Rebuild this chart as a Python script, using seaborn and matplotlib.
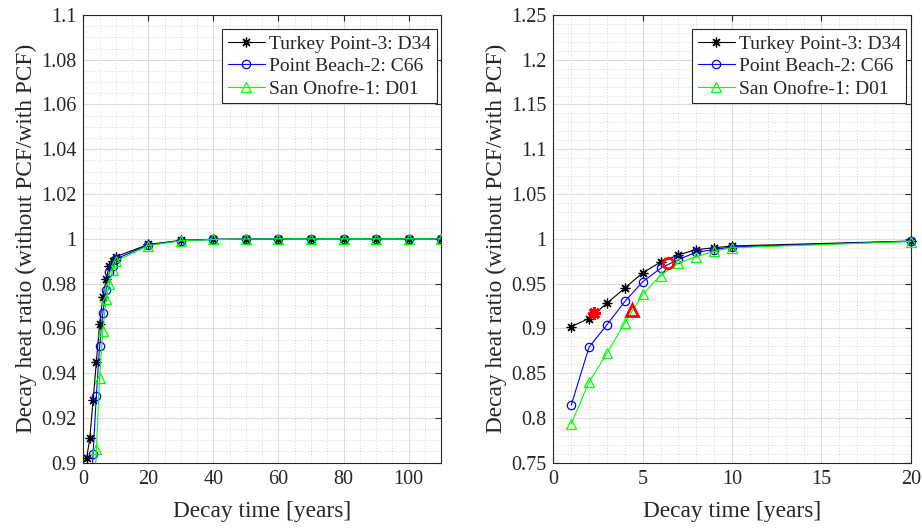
import numpy as np
import pandas as pd
import seaborn as sns
import matplotlib.pyplot as plt
from matplotlib.ticker import MultipleLocator, FuncFormatter

# Decay time in years (same sampling for all three assemblies)
decay_years = [1, 2, 3, 4, 5, 6, 7, 8, 9, 10, 20, 30, 40, 50, 60, 70, 80, 90, 100, 110]

# Decay heat ratio (without PCF / with PCF)
turkey_point = [0.902, 0.911, 0.928, 0.945, 0.962, 0.974, 0.982, 0.988, 0.990, 0.992,
                0.9975, 0.9993, 0.9998, 0.9999, 1.0, 1.0, 1.0, 1.0, 1.0, 1.0]
point_beach = [0.814, 0.879, 0.904, 0.930, 0.952, 0.967, 0.977, 0.985, 0.988, 0.991,
               0.9972, 0.9992, 0.9997, 0.9999, 1.0, 1.0, 1.0, 1.0, 1.0, 1.0]
san_onofre = [0.793, 0.840, 0.872, 0.906, 0.938, 0.959, 0.973, 0.980, 0.986, 0.990,
              0.9970, 0.9991, 0.9997, 0.9999, 1.0, 1.0, 1.0, 1.0, 1.0, 1.0]

# Highlighted (red) points on the right panel
hl_turkey = (2.3, 0.917)
hl_beach = (6.4, 0.973)
hl_onofre = (4.4, 0.921)

series = [
    ("Turkey Point-3: D34", turkey_point, "black", (8, 2, 0), 7),
    ("Point Beach-2: C66", point_beach, "blue", "o", 6),
    ("San Onofre-1: D01", san_onofre, "#00ff00", "^", 6.5),
]

sns.set_style("whitegrid")
plt.rcParams["font.family"] = ["Liberation Serif", "DejaVu Serif"]
plt.rcParams["mathtext.fontset"] = "stix"

fig = plt.figure(figsize=(9.22, 5.28), dpi=100)
ax1 = fig.add_axes([0.0904, 0.1237, 0.388, 0.848])
ax2 = fig.add_axes([0.6001, 0.1237, 0.3877, 0.848])

fmt = FuncFormatter(lambda v, p: "%g" % round(v, 4))


def draw_panel(ax, max_year, clip):
    for name, vals, color, mk, ms in series:
        df = pd.DataFrame({"year": decay_years, "ratio": vals})
        df = df[df["year"] <= max_year]
        sns.lineplot(data=df, x="year", y="ratio", ax=ax, color=color, lw=0.8,
                     marker=mk, ms=ms, mfc="none", mec=color, mew=0.9,
                     label=name, clip_on=clip, zorder=3)


def style_axes(ax, xlim, ylim, xmaj, xmin, ymaj, ymin):
    ax.set_xlim(*xlim)
    ax.set_ylim(*ylim)
    ax.xaxis.set_major_locator(MultipleLocator(xmaj))
    ax.xaxis.set_minor_locator(MultipleLocator(xmin))
    ax.yaxis.set_major_locator(MultipleLocator(ymaj))
    ax.yaxis.set_minor_locator(MultipleLocator(ymin))
    ax.xaxis.set_major_formatter(fmt)
    ax.yaxis.set_major_formatter(fmt)
    ax.grid(which="major", color="#dcdcdc", lw=0.8, ls="-")
    ax.grid(which="minor", color="#c8c8c8", lw=0.6, ls=(0, (1, 2.5)))
    ax.tick_params(which="major", direction="in", length=4, width=0.8,
                   top=True, right=True, labelsize=14.5, pad=5, colors="#262626")
    ax.tick_params(which="minor", length=0, top=True, right=True)
    for s in ax.spines.values():
        s.set_edgecolor("#262626")
        s.set_linewidth(0.8)
    ax.set_xlabel("Decay time [years]", fontsize=16.8, color="#262626", labelpad=9)
    ax.set_ylabel("Decay heat ratio (without PCF/with PCF)", fontsize=16.8,
                  color="#262626", labelpad=3)
    leg = ax.legend(loc="upper right", bbox_to_anchor=(0.988, 0.968), borderaxespad=0,
                    fancybox=False, edgecolor="#262626", framealpha=1, fontsize=14,
                    handlelength=1.9, handletextpad=0.2, labelspacing=0.25,
                    borderpad=0.3)
    leg.get_frame().set_linewidth(0.8)


draw_panel(ax1, 110, True)
style_axes(ax1, (0, 110), (0.9, 1.1), 20, 5, 0.02, 0.005)

draw_panel(ax2, 20, False)
ax2.plot(*hl_turkey, marker=(8, 2, 0), ms=9, mec="red", mew=2.2, ls="none", zorder=4)
ax2.plot(*hl_beach, marker="o", ms=7.5, mfc="none", mec="red", mew=2.0, ls="none", zorder=4)
ax2.plot(*hl_onofre, marker="^", ms=8.5, mfc="none", mec="red", mew=2.0, ls="none", zorder=4)
style_axes(ax2, (0, 20), (0.75, 1.25), 5, 1, 0.05, 0.01)

fig.savefig("out.png", dpi=100)
